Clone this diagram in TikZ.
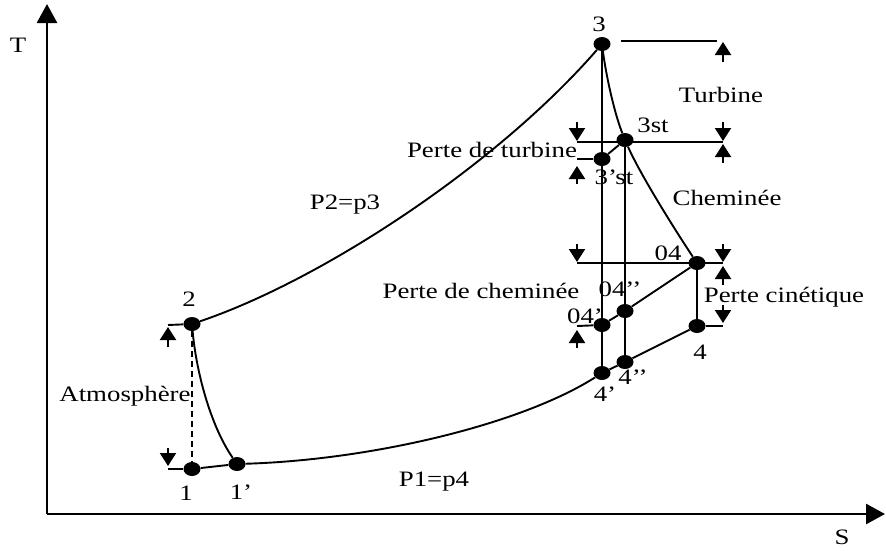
\documentclass[tikz,border=0pt]{standalone}
\usepackage{fontspec}
\setmainfont{Liberation Serif}[FakeStretch=1.22]
\usetikzlibrary{arrows.meta, shapes.geometric, calc}

\tikzset{
  dot/.style={ellipse, fill=black, minimum width=17pt, minimum height=14pt, inner sep=0pt},
  lbl/.style={inner sep=0pt, font=\fontsize{22}{24}\selectfont},
  curve/.style={line width=1.9pt},
  marrow/.style={line width=2pt, -{Triangle[width=16pt,length=13pt]}},
  axis/.style={line width=2.8pt, -{Triangle[width=20pt,length=19pt]}}
}

\begin{document}
\begin{tikzpicture}[x=1pt, y=-1pt]
    \useasboundingbox (0,0) rectangle (886,550);

    % Axes
    \coordinate (o) at (47,514);
    \coordinate (ytop) at (47,4);
    \coordinate (xend) at (885,514);
    \draw[axis] (o) -- (ytop);
    \draw[axis] (o) -- (xend);
    \node[lbl] (tlab) at (18,45) {T};
    \node[lbl] (slab) at (842,537) {S};

    % State points
    \node[dot] (p1) at (192,469) {};
    \node[dot] (p1p) at (237,464) {};
    \node[dot] (p2) at (192,324) {};
    \node[dot] (p3) at (602,44) {};
    \node[dot] (p3st) at (625,140) {};
    \node[dot] (p3pst) at (602,159) {};
    \node[dot] (p04) at (697,263) {};
    \node[dot] (p04pp) at (625,311) {};
    \node[dot] (p04p) at (602,325) {};
    \node[dot] (p4) at (697,326) {};
    \node[dot] (p4pp) at (625,362) {};
    \node[dot] (p4p) at (602,373) {};

    % Cycle
    \draw[curve] (p2) .. controls (322,280) and (497,165) .. (p3);
    \draw[curve] (p2) .. controls (196,370) and (210,425) .. (p1p);
    \draw[curve] (p1) -- (p1p);
    \draw[curve] (p1p) .. controls (370,460) and (520,425) .. (p4p);
    \draw[curve] (p4p) -- (p4pp) -- (p4);
    \draw[curve] (p3) .. controls (606,75) and (614,112) .. (p3st);
    \draw[curve] (p3st) .. controls (641,176) and (677,233) .. (p04);
    \draw[curve] (p3) -- (p4p);
    \draw[curve] (p3st) -- (p4pp);
    \draw[curve] (p04) -- (p4);
    \draw[curve] (p3pst) -- (p3st);
    \draw[curve] (p04p) -- (p04pp) -- (p04);
    \draw[curve, dash pattern=on 6pt off 4pt] (p2) -- (p1);

    % Reference levels
    \coordinate (tA) at (621,41);
    \coordinate (tB) at (723,41);
    \coordinate (sA) at (577,142);
    \coordinate (sB) at (723,142);
    \coordinate (sC) at (577,159);
    \coordinate (cA) at (577,263);
    \coordinate (cB) at (723,263);
    \coordinate (cC) at (577,326);
    \coordinate (kB) at (723,326);
    \coordinate (aA) at (168,325);
    \coordinate (aB) at (168,469);
    \draw[curve] (tA) -- ([xshift=-6pt]tB);
    \draw[curve] (sA) -- (sB);
    \draw[curve] (sC) -- (p3pst);
    \draw[curve] (cA) -- (cB);
    \draw[curve] (cC) -- (p04p);
    \draw[curve] (p4) -- (kB);
    \draw[curve] (aA) -- (p2);
    \draw[curve] (aB) -- (p1);

    % Dimension arrows
    \draw[marrow] ([yshift=-21pt]tB) -- ([yshift=-1pt]tB);
    \draw[marrow] ([yshift=20pt]sA) -- ([yshift=1pt]sA);
    \draw[marrow] ([yshift=20pt]sB) -- ([yshift=1pt]sB);
    \draw[marrow] ([yshift=-21pt]sB) -- ([yshift=-2pt]sB);
    \draw[marrow] ([yshift=-25pt]sC) -- ([yshift=-7pt]sC);
    \draw[marrow] ([yshift=19pt]cA) -- ([yshift=1pt]cA);
    \draw[marrow] ([yshift=19pt]cB) -- ([yshift=1pt]cB);
    \draw[marrow] ([yshift=-22pt]cB) -- ([yshift=-3pt]cB);
    \draw[marrow] ([yshift=-22pt]cC) -- ([yshift=-4pt]cC);
    \draw[marrow] ([yshift=21pt]kB) -- ([yshift=3pt]kB);
    \draw[marrow] ([yshift=-22pt]aA) -- ([yshift=-2pt]aA);
    \draw[marrow] ([yshift=21pt]aB) -- ([yshift=3pt]aB);

    % Point labels
    \node[lbl] (l1) at (186,493) {1};
    \node[lbl] (l1p) at (241,492) {1’};
    \node[lbl] (l2) at (189,299) {2};
    \node[lbl] (l3) at (599,24) {3};
    \node[lbl] (l3st) at (653,125) {3st};
    \node[lbl] (l3pst) at (614,177) {3’st};
    \node[lbl] (l04) at (668,253) {04};
    \node[lbl] (l04pp) at (620,289) {04’’};
    \node[lbl] (l04p) at (585,316) {04’};
    \node[lbl] (l4) at (700,352) {4};
    \node[lbl] (l4pp) at (633,377) {4’’};
    \node[lbl] (l4p) at (605,394) {4’};

    % Region labels
    \node[lbl] (turb) at (721,95) {Turbine};
    \node[lbl] (chem) at (727,198) {Cheminée};
    \node[lbl] (pturb) at (492,150) {Perte de turbine};
    \node[lbl] (pchem) at (481,291) {Perte de cheminée};
    \node[lbl] (pcin) at (784,297) {Perte cinétique};
    \node[lbl] (atm) at (125,396) {Atmosphère};
    \node[lbl] (hp) at (345,205) {P2=p3};
    \node[lbl] (lp) at (434,482) {P1=p4};

\end{tikzpicture}
\end{document}
